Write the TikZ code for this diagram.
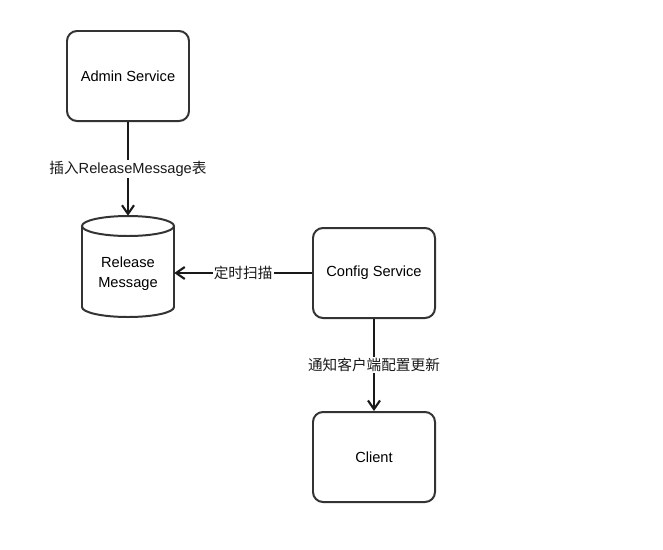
\documentclass[tikz,border=0pt]{standalone}
\usepackage{fontspec}
\setmainfont{Liberation Sans}
\newfontfamily\cjk{Noto Sans CJK SC}
\usetikzlibrary{arrows.meta,positioning,shapes.geometric}
\definecolor{edgegray}{RGB}{51,51,51}

\begin{document}
\begin{tikzpicture}[x=0.03cm,y=-0.03cm,
  font=\fontsize{12.5}{15}\selectfont,
  svcbox/.style={draw=edgegray,line width=1.7pt,rounded corners=0.3cm,fill=white,
    minimum width=3.66cm,minimum height=2.7cm,align=center},
  dbline/.style={draw=edgegray,line width=1.7pt},
  dbnode/.style={rectangle,minimum width=2.76cm,minimum height=3.03cm,inner sep=0pt},
  flow/.style={->,>={Straight Barb[length=2.6mm,width=3.6mm]},line width=1.8pt,black!90},
  lbl/.style={fill=white,inner sep=1pt}]
\useasboundingbox[fill=white] (0,0) rectangle (663,549);
\node[svcbox] (admin) at (128,76) {Admin Service};
% cylinder: outline drawn by hand, node kept for anchors
\node[dbnode] (relmsg) at (128,266.5) {};
\draw[dbline] (82,226) -- (82,307) arc[start angle=180,end angle=0,x radius=46,y radius=10] -- (174,226);
\draw[dbline] (128,226) ellipse[x radius=46,y radius=10];
\node[align=center,font=\fontsize{12.5}{17}\selectfont] (relmsgtext) at (128,274) {Release\\Message};
\node[svcbox] (config) at (374,273) {Config Service};
\node[svcbox] (client) at (374,457) {Client};
\draw[flow] (admin) -- node[lbl] {{\cjk 插入}ReleaseMessage{\cjk 表}} (relmsg.north);
\draw[flow] (config) -- node[lbl] {\cjk 定时扫描} (relmsg.east |- config);
\draw[flow] (config) -- node[lbl] {\cjk 通知客户端配置更新} (client);
\end{tikzpicture}
\end{document}
